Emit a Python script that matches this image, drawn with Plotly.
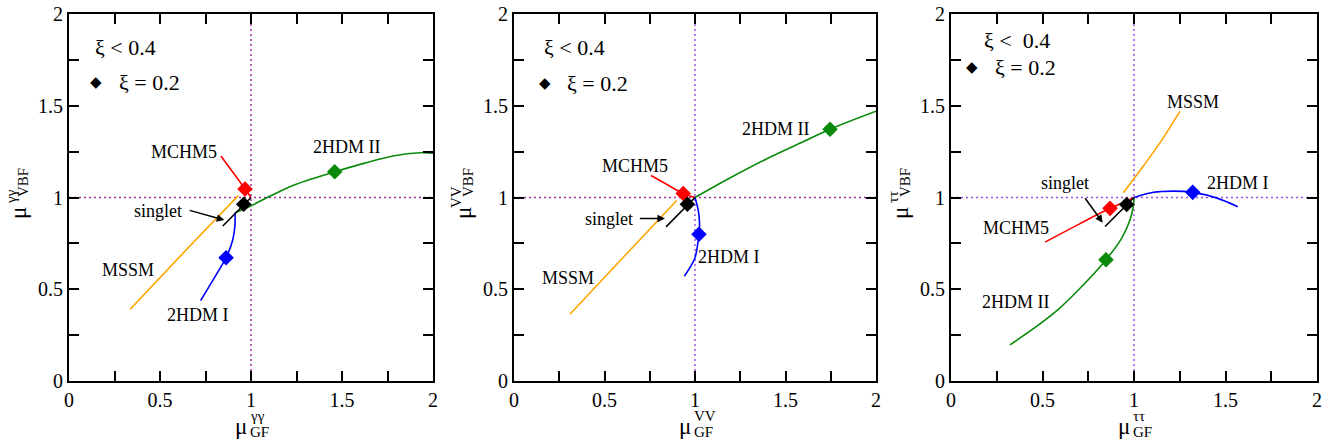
import plotly.graph_objects as go

W, H = 1338, 447
FONT = "Liberation Serif, Times New Roman, Times, serif"

# ---------------- data: panel 1 (gamma gamma) ----------------
GG_2HDM2_X = [0.912, 1.0, 1.1, 1.23, 1.46, 1.62, 1.78, 1.93, 2.0]
GG_2HDM2_Y = [0.917, 0.955, 1.005, 1.066, 1.14, 1.186, 1.226, 1.244, 1.242]
GG_2HDM1_X = [0.912, 0.912, 0.9, 0.863, 0.8, 0.723]
GG_2HDM1_Y = [0.917, 0.85, 0.77, 0.672, 0.565, 0.438]
GG_MSSM_X = [0.335, 0.63, 0.93]
GG_MSSM_Y = [0.39, 0.70, 1.01]
GG_MCHM5_X = [0.835, 0.87, 0.92, 0.967, 1.0]
GG_MCHM5_Y = [1.226, 1.178, 1.112, 1.046, 1.0]
GG_SINGLET_X = [0.845, 1.0]
GG_SINGLET_Y = [0.845, 1.0]
GG_MARK_2HDM2 = (1.46, 1.14)
GG_MARK_2HDM1 = (0.863, 0.672)
GG_MARK_MCHM5 = (0.967, 1.046)
GG_MARK_SINGLET = (0.96, 0.963)

# ---------------- data: panel 2 (VV) ----------------
VV_2HDM2_X = [1.0, 1.2, 1.4, 1.6, 1.746, 2.0]
VV_2HDM2_Y = [1.0, 1.11, 1.213, 1.305, 1.372, 1.47]
VV_2HDM1_X = [1.0, 1.018, 1.025, 1.022, 1.0, 0.97, 0.941]
VV_2HDM1_Y = [1.0, 0.93, 0.86, 0.8, 0.672, 0.615, 0.571]
VV_MSSM_X = [0.309, 0.6, 0.899]
VV_MSSM_Y = [0.364, 0.67, 0.984]
VV_MCHM5_X = [0.757, 0.843, 0.935, 1.0]
VV_MCHM5_Y = [1.12, 1.072, 1.022, 1.0]
VV_SINGLET_X = [0.84, 1.0]
VV_SINGLET_Y = [0.84, 1.0]
VV_MARK_2HDM2 = (1.746, 1.372)
VV_MARK_2HDM1 = (1.022, 0.8)
VV_MARK_MCHM5 = (0.935, 1.022)
VV_MARK_SINGLET = (0.958, 0.963)

# ---------------- data: panel 3 (tau tau) ----------------
TT_2HDM2_X = [0.322, 0.45, 0.58, 0.7, 0.847, 0.933, 0.978, 0.996, 1.0]
TT_2HDM2_Y = [0.197, 0.285, 0.385, 0.5, 0.661, 0.779, 0.878, 0.95, 1.0]
TT_2HDM1_X = [1.0, 1.1, 1.215, 1.321, 1.45, 1.567]
TT_2HDM1_Y = [1.0, 1.027, 1.035, 1.028, 0.998, 0.95]
TT_MSSM_X = [0.942, 1.05, 1.15, 1.251]
TT_MSSM_Y = [1.026, 1.17, 1.31, 1.469]
TT_MCHM5_X = [0.514, 0.7, 0.869, 0.96, 1.0]
TT_MCHM5_Y = [0.757, 0.855, 0.941, 0.98, 1.0]
TT_SINGLET_X = [0.842, 1.0]
TT_SINGLET_Y = [0.842, 1.0]
TT_MARK_2HDM2 = (0.847, 0.661)
TT_MARK_2HDM1 = (1.321, 1.028)
TT_MARK_MCHM5 = (0.869, 0.941)
TT_MARK_SINGLET = (0.96, 0.962)

# axes / ticks
TICK_VALS = [0, 0.25, 0.5, 0.75, 1, 1.25, 1.5, 1.75, 2]
TICK_TEXT = ["0", "", "0.5", "", "1", "", "1.5", "", "2"]
SM_REF = 1.0

CHANNELS = ["γγ", "VV", "ττ"]

COL = {"2HDM II": "#0a8a0a", "2HDM I": "#0000ff", "MSSM": "#ffa500",
       "MCHM5": "#ff0000", "singlet": "#000000"}

panels = [
    {"2HDM II": (GG_2HDM2_X, GG_2HDM2_Y, GG_MARK_2HDM2),
     "2HDM I": (GG_2HDM1_X, GG_2HDM1_Y, GG_MARK_2HDM1),
     "MSSM": (GG_MSSM_X, GG_MSSM_Y, None),
     "MCHM5": (GG_MCHM5_X, GG_MCHM5_Y, GG_MARK_MCHM5),
     "singlet": (GG_SINGLET_X, GG_SINGLET_Y, GG_MARK_SINGLET)},
    {"2HDM II": (VV_2HDM2_X, VV_2HDM2_Y, VV_MARK_2HDM2),
     "2HDM I": (VV_2HDM1_X, VV_2HDM1_Y, VV_MARK_2HDM1),
     "MSSM": (VV_MSSM_X, VV_MSSM_Y, None),
     "MCHM5": (VV_MCHM5_X, VV_MCHM5_Y, VV_MARK_MCHM5),
     "singlet": (VV_SINGLET_X, VV_SINGLET_Y, VV_MARK_SINGLET)},
    {"2HDM II": (TT_2HDM2_X, TT_2HDM2_Y, TT_MARK_2HDM2),
     "2HDM I": (TT_2HDM1_X, TT_2HDM1_Y, TT_MARK_2HDM1),
     "MSSM": (TT_MSSM_X, TT_MSSM_Y, None),
     "MCHM5": (TT_MCHM5_X, TT_MCHM5_Y, TT_MARK_MCHM5),
     "singlet": (TT_SINGLET_X, TT_SINGLET_Y, TT_MARK_SINGLET)},
]

# label positions (data coords) per panel
LABELS = [
    {"MCHM5": (0.632, 1.25), "2HDM II": (1.526, 1.274), "MSSM": (0.326, 0.605),
     "2HDM I": (0.71, 0.36), "singlet": (0.489, 0.928)},
    {"MCHM5": (0.668, 1.172), "2HDM II": (1.448, 1.372), "MSSM": (0.3, 0.562),
     "2HDM I": (1.19, 0.676), "singlet": (0.527, 0.885)},
    {"MSSM": (1.321, 1.519), "2HDM I": (1.57, 1.077), "MCHM5": (0.355, 0.836),
     "2HDM II": (0.355, 0.432), "singlet": (0.623, 1.077)},
]
ARROWS = [((0.655, 0.932), (0.853, 0.877)),
          ((0.687, 0.885), (0.834, 0.885)),
          ((0.727, 1.004), (0.829, 0.863))]

# layout geometry (pixels)
AX_LEFT = [69, 514, 951]
AX_RIGHT = [433, 876, 1317]
AX_TOP, AX_BOT = 14, 381
DOT_COLORS = [("#993399", "#993399"), ("#9a50e0", "#993399"), ("#9a50e0", "#9a50e0")]
LEG_TITLE = ["ξ < 0.4", "ξ < 0.4", "ξ <  0.4"]
LEG_POS = [((93, 48), (96, 82), (117, 82)),
           ((542, 48), (545, 83), (565, 83)),
           ((982, 40), (972, 67), (993, 67))]


def P(px, py):
    return px / W, 1 - py / H


fig = go.Figure()
annotations = []
shapes = []
order = ["MSSM", "2HDM II", "2HDM I", "MCHM5", "singlet"]

for i, pan in enumerate(panels):
    xa = "x" if i == 0 else f"x{i+1}"
    ya = "y" if i == 0 else f"y{i+1}"
    for name in order:
        xs, ys, _ = pan[name]
        fig.add_trace(go.Scatter(x=xs, y=ys, mode="lines", xaxis=xa, yaxis=ya,
                                 line=dict(color=COL[name], width=1.6, shape="spline"),
                                 showlegend=False, hoverinfo="skip"))
    for name in ["2HDM II", "2HDM I", "MCHM5", "singlet"]:
        m = pan[name][2]
        fig.add_trace(go.Scatter(x=[m[0]], y=[m[1]], mode="markers", xaxis=xa, yaxis=ya,
                                 marker=dict(symbol="diamond", size=12, color=COL[name],
                                             line=dict(width=0)),
                                 showlegend=False, hoverinfo="skip"))
    # SM reference dotted lines
    vc, hc = DOT_COLORS[i]
    shapes.append(dict(type="line", xref=xa, yref=ya, x0=SM_REF, x1=SM_REF, y0=0, y1=2,
                       line=dict(color=vc, width=1.5, dash="2px,3px"), layer="below"))
    shapes.append(dict(type="line", xref=xa, yref=ya, x0=0, x1=2, y0=SM_REF, y1=SM_REF,
                       line=dict(color=hc, width=1.5, dash="2px,3px"), layer="below"))
    # model labels
    for name, (lx, ly) in LABELS[i].items():
        annotations.append(dict(x=lx, y=ly, xref=xa, yref=ya, text=name, showarrow=False,
                                font=dict(family=FONT, size=18, color="black")))
    (tx, ty), (hx, hy) = ARROWS[i]
    annotations.append(dict(x=hx, y=hy, ax=tx, ay=ty, xref=xa, yref=ya, axref=xa, ayref=ya,
                            text="", showarrow=True, arrowhead=2, arrowsize=1,
                            arrowwidth=1.5, arrowcolor="black"))
    # legend
    (t1, d1, t2) = LEG_POS[i]
    x, y = P(*t1)
    annotations.append(dict(x=x, y=y, xref="paper", yref="paper", text=LEG_TITLE[i],
                            showarrow=False, xanchor="left", yanchor="middle",
                            font=dict(family=FONT, size=22, color="black")))
    x, y = P(*d1)
    annotations.append(dict(x=x, y=y, xref="paper", yref="paper", text="◆",
                            showarrow=False, xanchor="center", yanchor="middle",
                            font=dict(family="DejaVu Sans", size=15, color="black")))
    x, y = P(*t2)
    annotations.append(dict(x=x, y=y, xref="paper", yref="paper", text="ξ = 0.2",
                            showarrow=False, xanchor="left", yanchor="middle",
                            font=dict(family=FONT, size=22, color="black")))
    # x-axis title
    cx = (AX_LEFT[i] + AX_RIGHT[i]) / 2 - 10
    x, y = P(cx, 426)
    annotations.append(dict(x=x, y=y, xref="paper", yref="paper", text="μ", showarrow=False,
                            xanchor="center", yanchor="middle",
                            font=dict(family=FONT, size=23, color="black")))
    x, y = P(cx + 7, 416)
    annotations.append(dict(x=x, y=y, xref="paper", yref="paper", text=CHANNELS[i],
                            showarrow=False, xanchor="left", yanchor="middle",
                            font=dict(family=FONT, size=15, color="black")))
    x, y = P(cx + 7, 432)
    annotations.append(dict(x=x, y=y, xref="paper", yref="paper", text="GF",
                            showarrow=False, xanchor="left", yanchor="middle",
                            font=dict(family=FONT, size=15, color="black")))
    # y-axis title (rotated)
    base = AX_LEFT[i]
    x, y = P(base - 51, 213)
    annotations.append(dict(x=x, y=y, xref="paper", yref="paper", text="μ", showarrow=False,
                            textangle=-90, xanchor="center", yanchor="middle",
                            font=dict(family=FONT, size=23, color="black")))
    x, y = P(base - 58, 197)
    annotations.append(dict(x=x, y=y, xref="paper", yref="paper", text=CHANNELS[i],
                            showarrow=False, textangle=-90, xanchor="center", yanchor="middle",
                            font=dict(family=FONT, size=15, color="black")))
    x, y = P(base - 46, 183)
    annotations.append(dict(x=x, y=y, xref="paper", yref="paper", text="VBF",
                            showarrow=False, textangle=-90, xanchor="center", yanchor="middle",
                            font=dict(family=FONT, size=15, color="black")))

axis_common = dict(range=[0, 2], tickvals=TICK_VALS, ticktext=TICK_TEXT, ticks="inside",
                   ticklen=10, tickwidth=1.5, tickcolor="black", showline=True,
                   linecolor="black", linewidth=2, mirror="ticks", showgrid=False,
                   zeroline=False, automargin=False, fixedrange=True,
                   tickfont=dict(family=FONT, size=20, color="black"))

layout = dict(width=W, height=H, autosize=False, margin=dict(l=0, r=0, t=0, b=0),
              paper_bgcolor="white", plot_bgcolor="white", hovermode=False,
              annotations=annotations, shapes=shapes, showlegend=False)
for i in range(3):
    xk = "xaxis" if i == 0 else f"xaxis{i+1}"
    yk = "yaxis" if i == 0 else f"yaxis{i+1}"
    ya = "y" if i == 0 else f"y{i+1}"
    xa = "x" if i == 0 else f"x{i+1}"
    layout[xk] = dict(axis_common, domain=[AX_LEFT[i] / W, AX_RIGHT[i] / W], anchor=ya)
    layout[yk] = dict(axis_common, domain=[1 - AX_BOT / H, 1 - AX_TOP / H], anchor=xa)

fig.update_layout(**layout)
fig.write_html("out.html", config={"displayModeBar": False},
               post_script="document.body.style.margin='0';document.body.style.overflow='hidden';")
